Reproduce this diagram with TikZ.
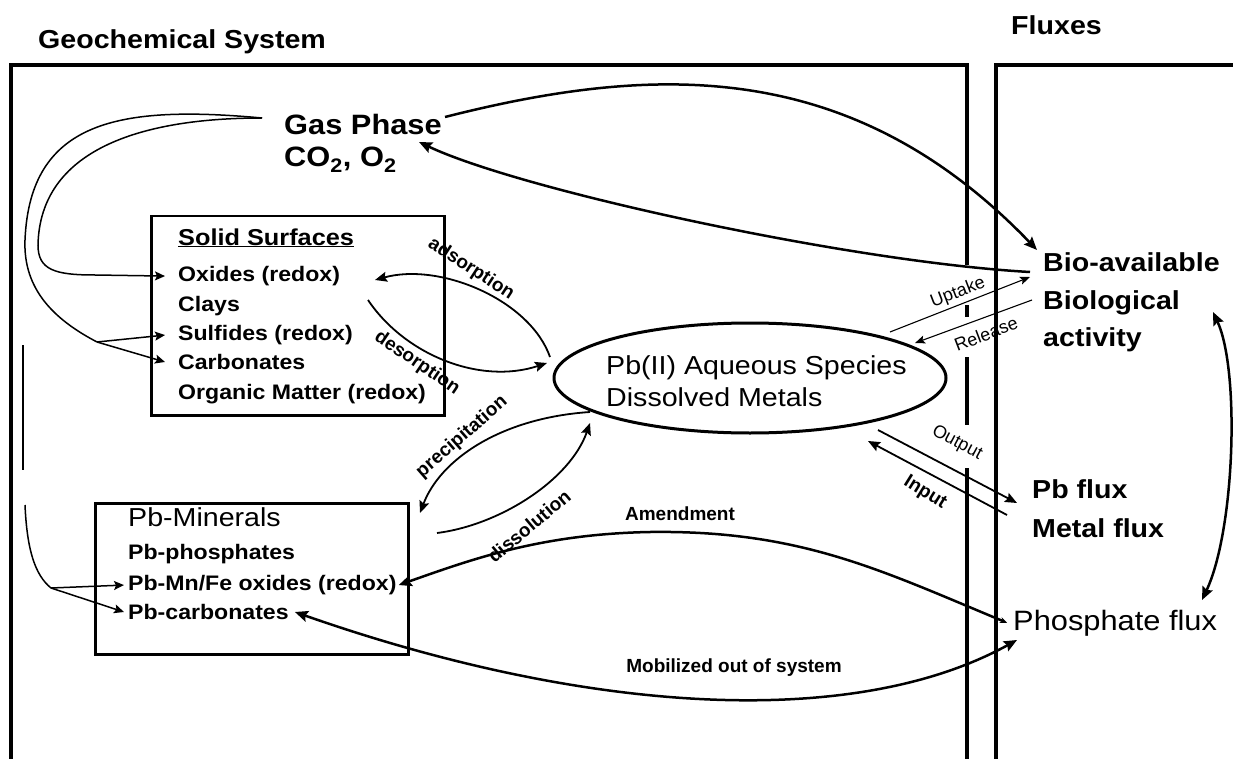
\documentclass[tikz,border=0pt]{standalone}
\usepackage{fontspec}
\setmainfont{Liberation Sans}
\usetikzlibrary{arrows.meta,shapes.geometric}

\tikzset{
  txt/.style={inner sep=0pt, anchor=base west, xscale=1.1},
  head/.style={txt, font=\fontsize{26}{30}\selectfont\bfseries},
  gastxt/.style={txt, font=\fontsize{28}{32}\selectfont\bfseries},
  midtxt/.style={txt, font=\fontsize{26}{30}\selectfont},
  item/.style={txt, font=\fontsize{21}{24}\selectfont\bfseries},
  lbl/.style={inner sep=0pt, font=\fontsize{19}{21}\selectfont\bfseries},
  lblthin/.style={inner sep=0pt, font=\fontsize{18}{20}\selectfont},
  frame/.style={line width=4pt},
  box/.style={draw, line width=2.5pt, inner sep=0pt, anchor=north west},
  flow/.style={line width=2.5pt, -{Stealth[length=13pt,width=11pt,inset=2pt]}},
  twoway/.style={line width=2.5pt, {Stealth[length=13pt,width=11pt,inset=2pt]}-{Stealth[length=13pt,width=11pt,inset=2pt]}},
  react/.style={line width=1.8pt, -{Stealth[length=12pt,width=10pt,inset=2pt]}},
  feed/.style={line width=1.5pt, -{Stealth[length=10pt,width=9pt,inset=2pt]}},
  fine/.style={line width=1.1pt, -{Stealth[length=10pt,width=8pt,inset=2pt]}},
}

\begin{document}
\begin{tikzpicture}[x=1pt,y=-1pt]
    \useasboundingbox (0,0) rectangle (1233,759);
    % frames
    \draw[frame] (11,759) -- (11,65) -- (967,65) -- (967,265);
    \draw[frame] (967,305) -- (967,317);
    \draw[frame] (967,357) -- (967,425);
    \draw[frame] (967,468) -- (967,759);
    \draw[frame] (996,759) -- (996,65) -- (1233,65);
    \node[head] (geo) at (38,49) {Geochemical System};
    \node[head] (flx) at (1011,35) {Fluxes};

    % gas phase
    \node[gastxt] (gas) at (284,135) {Gas Phase};
    \node[gastxt] (gas2) at (284,167) {CO\textsubscript{2}, O\textsubscript{2}};

    % solid surfaces
    \node[box, minimum width=293pt, minimum height=199pt] (solid) at (150,215) {};
    \node[txt, font=\fontsize{23}{26}\selectfont\bfseries] (ssT) at (178,245) {\underline{Solid Surfaces}};
    \node[item] (ox) at (178,281.5) {Oxides (redox)};
    \node[item] (clay) at (178,311) {Clays};
    \node[item] (sulf) at (178,340.5) {Sulfides (redox)};
    \node[item] (carb) at (178,369.5) {Carbonates};
    \node[item] (org) at (178,399.5) {Organic Matter (redox)};

    % pb minerals
    \node[box, minimum width=313pt, minimum height=151pt] (pbmin) at (94,502) {};
    \node[midtxt] (pbT) at (128,526) {Pb-Minerals};
    \node[item] (pbphos) at (128,559.5) {Pb-phosphates};
    \node[item] (pbmn) at (128,590.5) {Pb-Mn/Fe oxides (redox)};
    \node[item] (pbcarb) at (128,619.5) {Pb-carbonates};

    % aqueous species
    \node[draw, ellipse, line width=3pt, minimum width=392pt, minimum height=110pt, inner sep=0pt] (aq) at (750,378) {};
    \node[midtxt] (aq1) at (606,374) {Pb(II) Aqueous Species};
    \node[midtxt] (aq2) at (606,406) {Dissolved Metals};

    % fluxes
    \node[head] (bio) at (1043,272) {Bio-available};
    \node[head] (biol) at (1043,309) {Biological};
    \node[head] (act) at (1043,346) {activity};
    \node[head] (pbfl) at (1032,498) {Pb flux};
    \node[head] (metfl) at (1032,537) {Metal flux};
    \node[txt, font=\fontsize{28}{32}\selectfont] (phos) at (1013,630) {Phosphate flux};

    % end points
    \coordinate (gasL) at (262,118);
    \coordinate (gasR) at (445,117);
    \coordinate (gasIn) at (419,142);
    \coordinate (bioIn) at (1037,250);
    \coordinate (bioOut) at (1030,272);
    \coordinate (fork1) at (97,342);
    \coordinate (fork2) at (51,588);

    % gas phase to solids
    \draw[line width=1.5pt] (gasL) .. controls (120,105) and (30,120) .. (25,240)
        .. controls (23,290) and (55,320) .. (fork1);
    \draw[feed] (fork1) -- ([xshift=-13pt]sulf.west);
    \draw[feed] (fork1) -- ([xshift=-13pt]carb.west);
    \draw[feed] (gasL) .. controls (140,118) and (40,150) .. (38,245)
        .. controls (38,270) and (55,275) .. (95,275) -- ([xshift=-13pt]ox.west);
    \draw[line width=1.5pt] (23,345) -- (23,470);
    \draw[line width=1.5pt] (25,505) .. controls (27,550) and (35,575) .. (fork2);
    \draw[feed] (fork2) -- ([xshift=-4pt]pbmn.west);
    \draw[feed] (fork2) -- ([xshift=-4pt]pbcarb.west);

    % gas phase and biota
    \draw[flow] (gasR) .. controls (650,65) and (850,55) .. (bioIn);
    \draw[flow] (bioOut) .. controls (850,262) and (520,190) .. (gasIn);

    % sorption, precipitation
    \draw[react] (550,357) .. controls (530,300) and (440,262) .. (375,280);
    \draw[react] (368,300) .. controls (405,355) and (480,385) .. (547,363);
    \draw[react] (590,412) .. controls (500,418) and (440,460) .. (420,513);
    \draw[react] (437,533) .. controls (500,525) and (570,480) .. (590,423);
    \node[lbl, rotate=-33] (adsorb) at (471,269) {adsorption};
    \node[lbl, rotate=-34] (desorb) at (417,363) {desorption};
    \node[lbl, rotate=41] (precip) at (462,437) {precipitation};
    \node[lbl, rotate=40] (dissol) at (529,526) {dissolution};

    % exchange with fluxes
    \draw[fine] (890,332) -- (1030,277);
    \draw[fine] (1032,300) -- (915,343);
    \node[lblthin, rotate=21] (uptake) at (958,293) {Uptake};
    \node[lblthin, rotate=21] (release) at (986,334) {Release};
    \draw[react] (878,430) -- (1017,503);
    \draw[react] (1007,515) -- (868,441);
    \node[lblthin, rotate=-28] (output) at (957,443) {Output};
    \node[lbl, rotate=-32] (input) at (925,493) {Input};

    % phosphate
    \draw[line width=2.5pt, {Stealth[length=7pt,width=6pt]}-{Stealth[length=13pt,width=11pt,inset=2pt]}]
        ([xshift=-6pt]phos.west) .. controls (880,570) and (800,530) .. (650,532)
        .. controls (540,534) and (470,560) .. ([xshift=2pt]pbmn.east);
    \draw[twoway] ([xshift=6pt]pbcarb.east) .. controls (580,712) and (850,732) .. (1017,640);
    \draw[twoway] (1213,312) .. controls (1240,370) and (1235,530) .. (1202,600);
    \node[lbl] (amend) at (680,514) {Amendment};
    \node[lbl] (mobil) at (734,668) {Mobilized out of system};
\end{tikzpicture}
\end{document}
